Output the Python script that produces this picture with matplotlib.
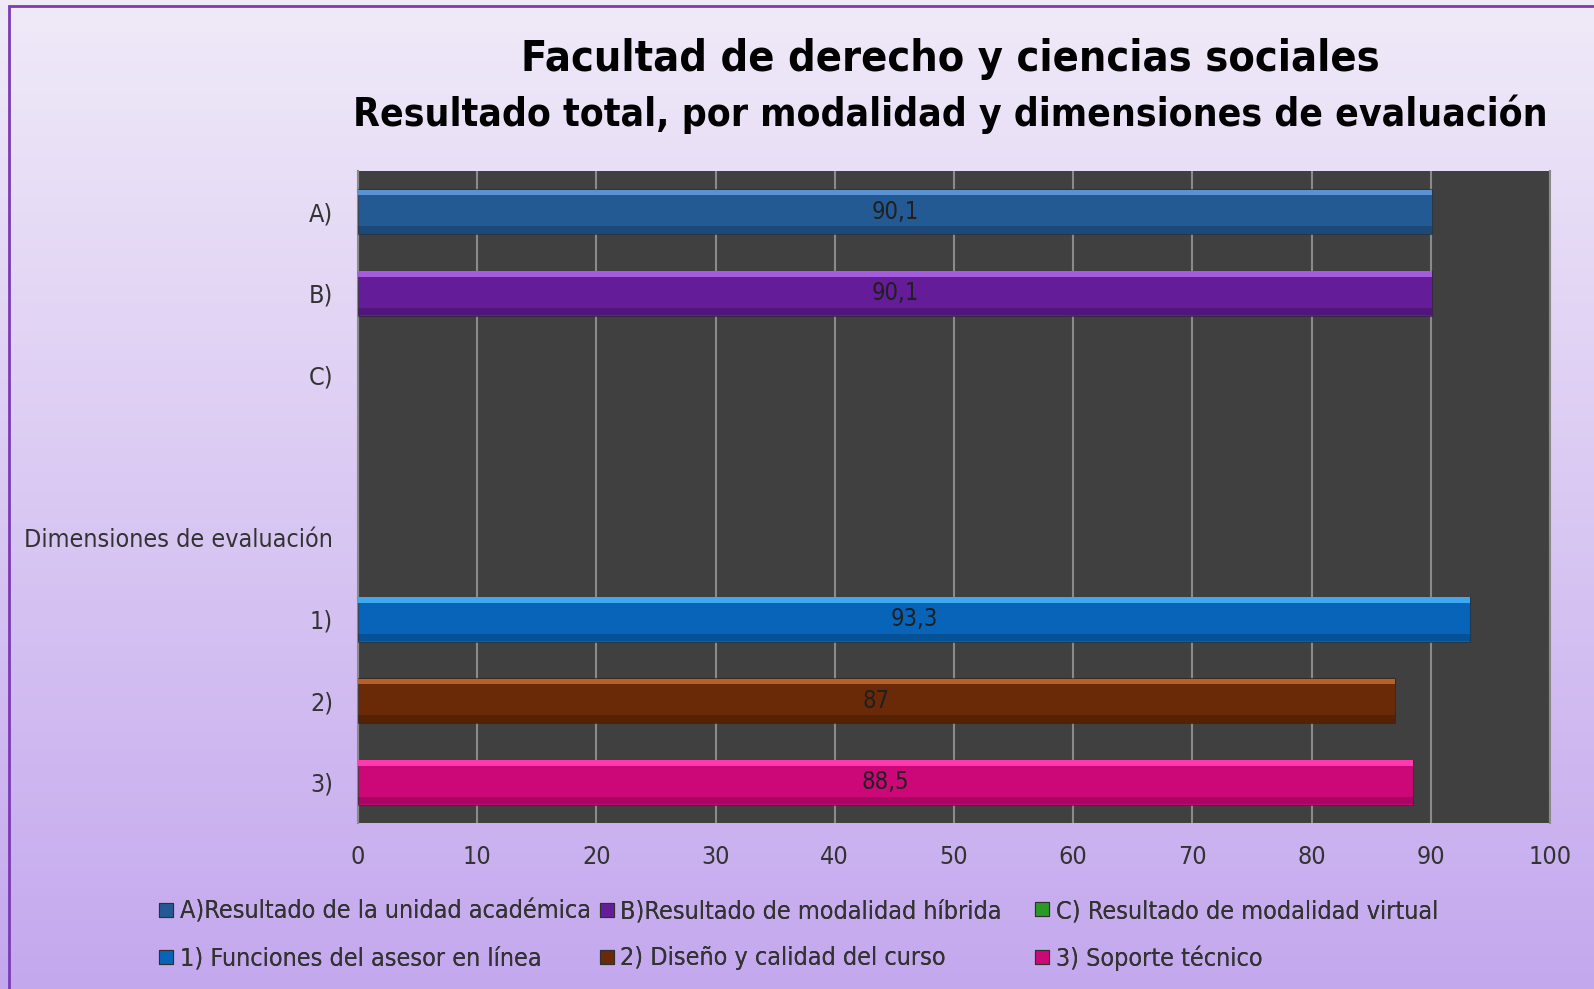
import matplotlib.pyplot as plt
import numpy as np
from matplotlib.patches import Rectangle
from matplotlib.lines import Line2D

plt.rcParams['font.family'] = ['DejaVu Sans']
plt.rcParams['font.stretch'] = 'condensed'

# data
categories = ['A)', 'B)', 'C)', '', 'Dimensiones de evaluación', '1)', '2)', '3)']
values = [90.1, 90.1, None, None, None, 93.3, 87, 88.5]
colors = ['#245a94', '#641c98', '#2a9a22', None, None, '#0764b8', '#6a2a08', '#cc0878']
hilite = ['#5a92d4', '#a55ae0', '#6ad060', None, None, '#40a8f0', '#b8602a', '#ff3aae']
legend_labels = ['A)Resultado de la unidad académica', 'B)Resultado de modalidad híbrida',
                 'C) Resultado de modalidad virtual', '1) Funciones del asesor en línea',
                 '2) Diseño y calidad del curso', '3) Soporte técnico']
legend_colors = ['#245a94', '#641c98', '#2a9a22', '#0764b8', '#6a2a08', '#cc0878']
xticks = np.arange(0, 101, 10)

W, H = 1594, 989
fig = plt.figure(figsize=(W / 100, H / 100), dpi=100)

# background gradient
bg = fig.add_axes([0, 0, 1, 1], zorder=-5)
grad = np.linspace(0, 1, 256).reshape(-1, 1)
c_top = np.array([0xf0, 0xea, 0xf8]) / 255
c_bot = np.array([0xc4, 0xa8, 0xee]) / 255
img = c_top[None, None, :] * (1 - grad[:, :, None]) + c_bot[None, None, :] * grad[:, :, None]
bg.imshow(img, aspect='auto', extent=(0, 1, 0, 1))
bg.add_patch(Rectangle((8.5 / W, -0.1), 1.2, 1 - 5.5 / H + 0.1, fill=False,
                       edgecolor='#7a3cb4', linewidth=2))
bg.set_xlim(0, 1)
bg.set_ylim(0, 1)
bg.set_axis_off()

ax = fig.add_axes([358 / W, 1 - 823 / H, (1550 - 358) / W, (823 - 171) / H])
ax.set_facecolor('#404040')

y = np.arange(len(categories))
h = 0.55
for i, v in enumerate(values):
    if v is None:
        continue
    ax.barh(y[i], v, height=h, color=colors[i], edgecolor='#20202080', linewidth=0.8, zorder=3)
    ax.barh(y[i] - h / 2 + 0.04, v, height=0.07, color=hilite[i], linewidth=0, zorder=4)
    ax.barh(y[i] + h / 2 - 0.05, v, height=0.09, color='black', alpha=0.18, linewidth=0, zorder=4)
    txt = ('%g' % v).replace('.', ',')
    ax.text(v / 2, y[i], txt, ha='center', va='center', fontsize=17, color='#202020', zorder=5)

ax.set_xlim(0, 100)
ax.set_ylim(len(categories) - 0.5, -0.5)
ax.set_xticks(xticks)
ax.set_yticks(y)
ax.set_yticklabels(categories)
ax.grid(axis='x', color='#8a8a8a', linewidth=1.5, zorder=1)
ax.set_axisbelow(True)
ax.tick_params(axis='both', length=0, labelsize=18, colors='#333333')
ax.tick_params(axis='x', pad=16)
ax.tick_params(axis='y', pad=18)
for s in ['top', 'bottom']:
    ax.spines[s].set_visible(False)
for s in ['left', 'right']:
    ax.spines[s].set_color('#8a8a8a')
    ax.spines[s].set_linewidth(1.5)

fig.text(950 / W, 1 - 59 / H, 'Facultad de derecho y ciencias sociales', ha='center', va='center',
         fontsize=31, fontweight='bold', color='black')
fig.text(950 / W, 1 - 114 / H, 'Resultado total, por modalidad y dimensiones de evaluación',
         ha='center', va='center', fontsize=28, fontweight='bold', color='black')

# legend: three columns at fixed positions, like the original
handles = [Line2D([], [], marker='s', linestyle='', markersize=10, markerfacecolor=c,
                  markeredgecolor='#303030', markeredgewidth=0.8) for c in legend_colors]
col_x = [157, 598, 1033]
for k in range(3):
    idx = [k, k + 3]
    leg = fig.legend([handles[i] for i in idx], [legend_labels[i] for i in idx], ncol=1,
                     loc='center left', bbox_to_anchor=(col_x[k] / W, 1 - 935 / H), frameon=False,
                     fontsize=18, labelcolor='#333333', handlelength=0.7, handletextpad=0.2,
                     labelspacing=0.9, borderpad=0, borderaxespad=0)
    fig.add_artist(leg)

fig.savefig('out.png', dpi=100)
